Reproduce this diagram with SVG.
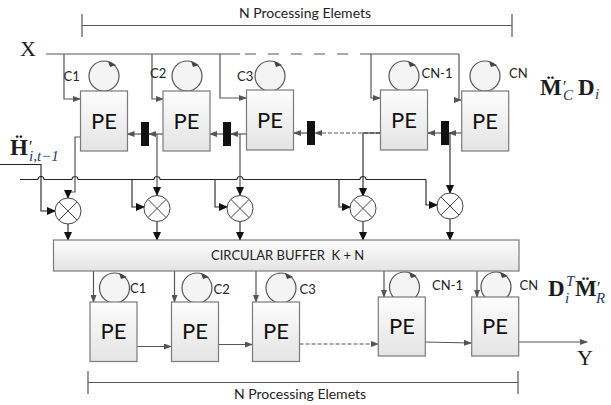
<svg xmlns="http://www.w3.org/2000/svg" width="611" height="405" viewBox="0 0 611 405">
<style>
.pe{fill:url(#g);stroke:#7a7a7a;stroke-width:1.2}
.loop{fill:#f4f4f4;stroke:#555;stroke-width:1.2}
.tip{fill:#444}
.pt{font:22px Lato,"Liberation Sans",sans-serif;fill:#111;text-anchor:middle}
.lb{font:14px Lato,"Liberation Sans",sans-serif;fill:#222}
.sm{font:13px Lato,"Liberation Sans",sans-serif;fill:#222}
.m{font-family:"Liberation Serif",serif;fill:#1c1c1c}
.mb{font-family:"Liberation Serif",serif;fill:#1c1c1c;font-size:23px;font-weight:bold}
.sub{font-family:"Liberation Serif",serif;font-style:italic;font-weight:normal;fill:#223a66;font-size:15px}
.l{fill:none;stroke:#555;stroke-width:1.2}
.k{fill:none;stroke:#222;stroke-width:1.1}
.mx{fill:#fff;stroke:#444;stroke-width:1}
.bar{fill:#111}
</style>
<defs>
<linearGradient id="g" x1="0" y1="0" x2="0" y2="1"><stop offset="0" stop-color="#fdfdfd"/><stop offset="1" stop-color="#e4e4e4"/></linearGradient>
<marker id="a" markerWidth="8" markerHeight="6" refX="7" refY="3" orient="auto" markerUnits="userSpaceOnUse"><path d="M0 0L8 3L0 6z" fill="#555"/></marker>
<marker id="b" markerWidth="9" markerHeight="8" refX="8" refY="4" orient="auto" markerUnits="userSpaceOnUse"><path d="M0 0L9 4L0 8z" fill="#111"/></marker>
</defs>
<g id="brackets" class="l">
<path class="l" d="M82 14V37M82 25.500H512M512 14V37"/>
<path class="l" d="M88 371V394M88 382.500H518M518 371V394"/>
</g>
<text class="lb" x="239" y="18">N Processing Elemets</text>
<text class="lb" x="234" y="399">N Processing Elemets</text>
<g id="connectors">
<path class="l" d="M46 54H240"/>
<path class="l" d="M245 54H362" stroke-dasharray="11 12"/>
<path class="l" d="M362 54H459"/>
<path class="l" marker-end="url(#a)" d="M64 54V99H80"/>
<path class="l" marker-end="url(#a)" d="M152 54V99H163"/>
<path class="l" marker-end="url(#a)" d="M220 54V98H246"/>
<path class="l" marker-end="url(#a)" d="M371 54V98H380"/>
<path class="l" marker-end="url(#a)" d="M459 54V100H461"/>
<path class="l" marker-end="url(#a)" d="M163 134H149"/>
<path class="l" marker-end="url(#a)" d="M141 134H127.500"/>
<path class="l" marker-end="url(#a)" d="M246 134H231"/>
<path class="l" marker-end="url(#a)" d="M223 134H210"/>
<path class="l" marker-end="url(#a)" d="M307 133H294"/>
<path class="l" marker-end="url(#a)" d="M380 133H315" stroke-dasharray="4 2"/>
<path class="l" marker-end="url(#a)" d="M461 133H449"/>
<path class="l" marker-end="url(#a)" d="M441 133H428"/>
<path class="k" d="M20 179.500H38M44 179.500H72M78 179.500H154M160 179.500H237M243 179.500H360M366 179.500H426M38 179.500A3 3 0 0 1 44 179.500M72 179.500A3 3 0 0 1 78 179.500M154 179.500A3 3 0 0 1 160 179.500M237 179.500A3 3 0 0 1 243 179.500M360 179.500A3 3 0 0 1 366 179.500"/>
<path class="k" d="M0 164.500H41V211H55" marker-end="url(#b)"/>
<path class="l" d="M80 137H75V192H68" />
<path class="k" marker-end="url(#b)" d="M68 192V198"/>
<path class="l" marker-end="url(#b)" d="M157 134V195"/>
<path class="l" marker-end="url(#b)" d="M240 134V195"/>
<path class="k" marker-end="url(#b)" d="M380 133H363V196"/>
<path class="k" marker-end="url(#b)" d="M450 133V193"/>
<path class="k" marker-end="url(#b)" d="M132 179.500V207H144"/>
<path class="k" marker-end="url(#b)" d="M215 179.500V207H227"/>
<path class="k" marker-end="url(#b)" d="M339 179.500V207H350"/>
<path class="k" marker-end="url(#b)" d="M426 179.500V205H437"/>
<path class="k" marker-end="url(#b)" d="M68 224V240"/>
<path class="k" marker-end="url(#b)" d="M157 222V240"/>
<path class="k" marker-end="url(#b)" d="M240 222V240"/>
<path class="k" marker-end="url(#b)" d="M363 222V240"/>
<path class="k" marker-end="url(#b)" d="M450 219V240"/>
<path class="l" marker-end="url(#a)" d="M93.500 271V302"/>
<path class="l" marker-end="url(#a)" d="M174.500 271V302"/>
<path class="l" marker-end="url(#a)" d="M256 271V302"/>
<path class="l" marker-end="url(#a)" d="M384 271V297"/>
<path class="l" marker-end="url(#a)" d="M477 271V297"/>
<path class="l" marker-end="url(#a)" d="M137 346.500H171"/>
<path class="l" marker-end="url(#a)" d="M218 344.500H252"/>
<path class="l" marker-end="url(#a)" d="M299.500 344H378" stroke-dasharray="4 2"/>
<path class="l" marker-end="url(#a)" d="M425 342L471 343"/>
<path class="l" marker-end="url(#a)" d="M518 342H587"/>
</g>
<g id="bar1"><rect class="bar" x="141" y="122" width="8" height="24"/></g>
<g id="bar2"><rect class="bar" x="223" y="122" width="8" height="24"/></g>
<g id="bar3"><rect class="bar" x="307" y="121" width="8" height="24"/></g>
<g id="bar4"><rect class="bar" x="441" y="121" width="8" height="24"/></g>
<g id="mul1"><circle class="mx" cx="68" cy="211" r="13"/><path class="mx" d="M59 202L77 220M77 202L59 220"/></g>
<g id="mul2"><circle class="mx" cx="157" cy="208.500" r="13"/><path class="mx" d="M148 199.500L166 217.500M166 199.500L148 217.500"/></g>
<g id="mul3"><circle class="mx" cx="240" cy="208.500" r="13"/><path class="mx" d="M231 199.500L249 217.500M249 199.500L231 217.500"/></g>
<g id="mul4"><circle class="mx" cx="363" cy="208.500" r="13"/><path class="mx" d="M354 199.500L372 217.500M372 199.500L354 217.500"/></g>
<g id="mul5"><circle class="mx" cx="450" cy="206" r="13"/><path class="mx" d="M441 197L459 215M459 197L441 215"/></g>
<g id="top-pe1"><circle class="loop" cx="104" cy="76" r="15"/><path class="tip" d="M108 61L116 65L110 67z"/><rect class="pe" x="80.500" y="91" width="47" height="60"/><text class="pt" x="104" y="129">PE</text></g>
<g id="top-pe2"><circle class="loop" cx="187" cy="76" r="15"/><path class="tip" d="M191 61L199 65L193 67z"/><rect class="pe" x="163" y="91" width="47" height="60"/><text class="pt" x="186.500" y="129">PE</text></g>
<g id="top-pe3"><circle class="loop" cx="270" cy="76" r="15"/><path class="tip" d="M274 61L282 65L276 67z"/><rect class="pe" x="246.500" y="90" width="47" height="60"/><text class="pt" x="270" y="128">PE</text></g>
<g id="top-pe4"><circle class="loop" cx="404" cy="76" r="15"/><path class="tip" d="M408 61L416 65L410 67z"/><rect class="pe" x="380.500" y="90" width="47" height="60"/><text class="pt" x="404" y="128">PE</text></g>
<g id="top-pe5"><circle class="loop" cx="485" cy="76" r="15"/><path class="tip" d="M489 61L497 65L491 67z"/><rect class="pe" x="461.700" y="91" width="47" height="60"/><text class="pt" x="485" y="129">PE</text></g>
<g id="bottom-pe1"><circle class="loop" cx="114.500" cy="288" r="15"/><path class="tip" d="M119 273L127 277L121 279z"/><rect class="pe" x="90" y="302" width="47" height="59.500"/><text class="pt" x="113.500" y="339">PE</text></g>
<g id="bottom-pe2"><circle class="loop" cx="197" cy="288" r="15"/><path class="tip" d="M201 273L209 277L203 279z"/><rect class="pe" x="171.500" y="302" width="47" height="59.500"/><text class="pt" x="195" y="339">PE</text></g>
<g id="bottom-pe3"><circle class="loop" cx="281" cy="288" r="15"/><path class="tip" d="M285 273L293 277L287 279z"/><rect class="pe" x="252.500" y="302" width="47" height="59.500"/><text class="pt" x="276" y="339">PE</text></g>
<g id="bottom-pe4"><circle class="loop" cx="404.500" cy="287" r="15"/><path class="tip" d="M409 272L417 276L411 278z"/><rect class="pe" x="378.300" y="297" width="47" height="59"/><text class="pt" x="402" y="334">PE</text></g>
<g id="bottom-pe5"><circle class="loop" cx="496" cy="287" r="15"/><path class="tip" d="M500 272L508 276L502 278z"/><rect class="pe" x="471.700" y="297" width="47" height="59"/><text class="pt" x="495" y="334">PE</text></g>
<g id="buffer"><rect class="pe" x="53.500" y="240" width="465.500" height="31"/><text class="sm" x="211" y="260" xml:space="preserve">CIRCULAR BUFFER  K + N</text></g>
<text class="sm" x="63.500" y="81">C1</text>
<text class="sm" x="150" y="78">C2</text>
<text class="sm" x="237" y="81">C3</text>
<text class="sm" x="421.500" y="78">CN-1</text>
<text class="sm" x="509" y="78">CN</text>
<text class="sm" x="130" y="293">C1</text>
<text class="sm" x="213.500" y="294">C2</text>
<text class="sm" x="299.500" y="294">C3</text>
<text class="sm" x="432" y="290">CN-1</text>
<text class="sm" x="519.500" y="290">CN</text>
<text class="m" x="20" y="55.500" font-size="22">X</text>
<text class="m" x="577" y="365" font-size="22">Y</text>
<text class="mb" x="10" y="155">Ḧ<tspan x="29" y="152" font-size="16" font-weight="normal">′</tspan><tspan class="sub" x="29" y="161">i,t−1</tspan></text>
<text class="mb" x="540" y="95">M̈<tspan x="563" y="92" font-size="16" font-weight="normal">′</tspan><tspan class="sub" x="563" y="100">C</tspan><tspan x="578" y="95">D</tspan><tspan class="sub" x="595" y="99">i</tspan></text>
<text class="mb" x="548" y="296">D<tspan class="sub" x="566" y="286">T</tspan><tspan class="sub" x="565" y="303">i</tspan><tspan x="575" y="296">M̈</tspan><tspan x="597" y="293" font-size="16" font-weight="normal">′</tspan><tspan class="sub" x="596" y="303">R</tspan></text>
</svg>
